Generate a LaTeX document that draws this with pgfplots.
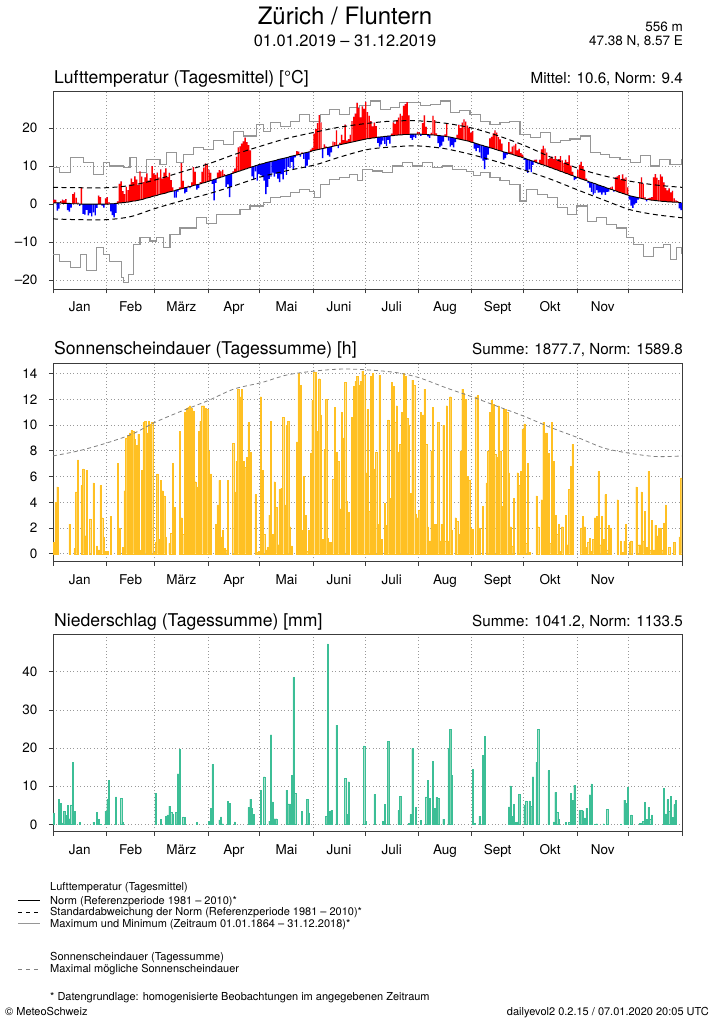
\documentclass[border=0pt]{standalone}
\usepackage{pgfplots}
\pgfplotsset{compat=1.18}
\usepackage{pgfplotstable}
\usepackage{fontspec}
\setmainfont{TeX Gyre Heros}
\definecolor{sunfill}{RGB}{255,212,95}
\definecolor{sunline}{RGB}{255,192,35}
\definecolor{prfill}{RGB}{125,210,178}
\definecolor{prline}{RGB}{60,190,150}
\definecolor{mmgray}{RGB}{150,150,150}
\definecolor{framec}{RGB}{60,60,60}
\newcommand{\fs}[1]{\fontsize{#1}{#1}\selectfont}

\pgfplotstableread[row sep=\\]{
N A\\
0.3 0.9\\0.3 0.8\\0.3 -2.0\\0.3 -1.5\\0.3 0.5\\0.2 1.0\\0.2 0.8\\0.2 1.1\\0.2 -1.8\\0.2 -2.2\\0.1 -1.0\\0.1 2.5\\0.1 3.0\\0.1 1.5\\0.1 0.3\\0 -0.5\\0 4.4\\0 -2.6\\0 -2.8\\0 -1.5\\0 -3.0\\0 -2.4\\0 -3.2\\0 -2.2\\0 -3.0\\0 -1.0\\0 2.2\\0 1.8\\0 -0.4\\0 -0.9\\0 1.5\\
0 1.8\\0 0.5\\0.1 -2.0\\0.1 -3.0\\0.1 -3.6\\0.2 -2.5\\0.2 0.5\\0.3 5.0\\0.3 5.7\\0.4 3.0\\0.4 2.2\\0.5 4.0\\0.5 3.2\\0.6 4.5\\0.7 6.0\\0.8 5.0\\0.8 6.5\\0.9 5.5\\1.0 4.0\\1.1 7.5\\1.2 6.0\\1.3 4.5\\1.5 5.5\\1.6 6.5\\1.7 4.5\\1.8 5.0\\2.0 8.0\\2.1 6.0\\
2.2 5.5\\2.3 6.0\\2.5 4.5\\2.6 6.5\\2.7 4.0\\2.8 5.5\\2.9 6.5\\3.1 4.0\\3.2 5.0\\3.3 3.0\\3.4 1.0\\3.5 -1.8\\3.7 -2.0\\3.8 -0.5\\3.9 0.5\\4.0 6.8\\4.1 2.0\\4.3 -1.5\\4.4 -1.2\\4.5 0.3\\4.6 -0.4\\4.7 1.0\\4.9 4.8\\5.0 3.5\\5.1 -1.3\\5.2 -1.0\\5.3 0.5\\5.5 3.0\\5.6 4.0\\5.7 5.0\\5.9 4.5\\
6.0 3.0\\6.2 2.0\\6.3 -1.0\\6.5 -5.5\\6.6 -1.0\\6.8 1.5\\6.9 2.0\\7.1 1.5\\7.2 1.8\\7.4 0.5\\7.5 -3.0\\7.7 -2.5\\7.8 -6.0\\8.0 -3.5\\8.1 0.5\\8.3 1.0\\8.4 4.0\\8.6 6.3\\8.7 6.5\\8.9 7.0\\9.0 7.5\\9.2 8.3\\9.3 7.0\\9.5 6.0\\9.6 4.5\\9.8 -2.5\\9.9 -3.5\\10.1 -1.5\\10.2 -4.0\\10.4 -2.5\\
10.5 -2.9\\10.6 -3.5\\10.7 -4.5\\10.9 -8.3\\11.0 -6.5\\11.1 -4.5\\11.2 -4.0\\11.3 -3.0\\11.4 -4.2\\11.5 -3.5\\11.7 -5.0\\11.8 -6.0\\11.9 -4.0\\12.0 -5.5\\12.1 -3.0\\12.2 -4.5\\12.3 -2.5\\12.5 -3.0\\12.6 -1.5\\12.7 -3.5\\12.8 -0.5\\12.9 1.0\\13.0 0.8\\13.1 -0.6\\13.3 0.3\\13.4 -1.5\\13.5 -4.0\\13.6 -3.5\\13.7 -2.0\\13.8 0.5\\14.0 0.8\\
14.1 4.4\\14.2 5.5\\14.3 7.0\\14.4 9.0\\14.5 7.0\\14.6 -2.5\\14.7 1.0\\14.8 0.3\\14.9 -2.0\\15.0 -2.5\\15.1 -1.5\\15.2 1.2\\15.3 1.0\\15.4 4.0\\15.5 -0.8\\15.6 0.5\\15.7 2.5\\15.8 1.0\\15.9 5.0\\16.0 0.7\\16.1 1.0\\16.2 2.0\\16.3 5.5\\16.4 6.5\\16.5 7.3\\16.6 10.0\\16.7 8.5\\16.8 6.0\\16.9 8.8\\17.0 8.0\\
17.1 9.8\\17.2 7.0\\17.2 6.0\\17.3 4.5\\17.4 3.0\\17.4 4.0\\17.5 3.0\\17.6 -1.5\\17.6 -2.5\\17.7 -2.0\\17.7 -1.0\\17.8 -2.0\\17.8 -2.5\\17.9 -1.0\\17.9 -2.0\\18.0 0.5\\18.0 3.5\\18.1 3.0\\18.1 4.0\\18.2 4.5\\18.2 5.5\\18.2 5.0\\18.3 7.5\\18.3 8.0\\18.3 8.5\\18.3 5.0\\18.4 -1.0\\18.4 -1.5\\18.4 -0.8\\18.4 -1.0\\18.4 0.6\\
18.4 0.5\\18.4 -0.5\\18.3 3.0\\18.3 5.0\\18.3 2.0\\18.3 -0.5\\18.2 -0.8\\18.2 0.5\\18.2 5.0\\18.1 4.0\\18.1 0.5\\18.0 -2.0\\18.0 -3.0\\17.9 -2.5\\17.9 -1.5\\17.8 0.5\\17.7 3.5\\17.7 -1.0\\17.6 -2.5\\17.5 -2.0\\17.4 -2.5\\17.3 -1.0\\17.2 1.0\\17.1 3.7\\17.0 3.0\\16.9 4.5\\16.8 5.5\\16.7 5.0\\16.6 4.0\\16.5 3.5\\16.3 2.5\\
16.2 3.0\\16.1 -1.5\\15.9 -2.0\\15.8 -1.0\\15.6 -2.0\\15.5 -3.5\\15.4 -4.0\\15.2 -6.0\\15.1 -3.5\\15.0 -2.0\\14.8 2.5\\14.7 3.0\\14.6 4.0\\14.4 5.0\\14.3 4.5\\14.1 3.5\\14.0 3.0\\13.9 2.0\\13.7 -2.0\\13.6 -1.5\\13.5 -0.5\\13.3 3.0\\13.2 0.5\\13.1 2.0\\12.9 2.5\\12.8 3.0\\12.6 1.5\\12.5 2.0\\12.4 1.0\\12.2 0.8\\
12.1 -0.5\\11.9 -3.0\\11.7 -3.5\\11.6 -2.5\\11.4 -3.0\\11.3 -1.0\\11.1 0.5\\10.9 0.8\\10.8 -0.3\\10.6 1.0\\10.4 4.0\\10.3 5.0\\10.1 4.5\\10.0 3.5\\9.8 2.0\\9.6 2.5\\9.5 3.0\\9.3 2.5\\9.1 3.5\\9.0 2.5\\8.8 3.0\\8.6 4.0\\8.5 3.0\\8.3 2.5\\8.1 3.5\\8.0 3.0\\7.8 5.0\\7.6 2.5\\7.5 1.0\\7.3 -1.0\\7.1 -0.5\\
7.0 2.0\\6.8 3.5\\6.6 4.5\\6.5 3.5\\6.3 2.5\\6.2 0.5\\6.0 -0.5\\5.8 -1.5\\5.7 -2.5\\5.5 -3.0\\5.4 -2.5\\5.2 -1.5\\5.0 -2.0\\4.9 -1.8\\4.7 -2.2\\4.6 -1.5\\4.4 -2.0\\4.2 -1.0\\4.1 -0.8\\3.9 0.5\\3.8 0.8\\3.6 -0.3\\3.5 3.5\\3.3 4.0\\3.1 4.5\\3.0 3.5\\2.8 5.0\\2.7 4.0\\2.5 4.5\\2.4 2.0\\
2.2 -1.0\\2.1 -2.5\\2.0 -3.0\\1.9 -2.0\\1.8 -1.5\\1.7 -0.5\\1.6 4.0\\1.5 5.5\\1.4 4.0\\1.3 0.5\\1.2 -0.5\\1.2 0.3\\1.1 0.5\\1.0 0.8\\1.0 6.0\\0.9 7.0\\0.9 6.0\\0.8 5.5\\0.8 7.0\\0.7 6.5\\0.7 5.0\\0.7 3.5\\0.6 3.0\\0.6 3.5\\0.6 2.5\\0.5 3.0\\0.5 1.0\\0.5 0.5\\0.5 0.3\\0.4 -1.5\\0.4 -2.0\\
}\temptab

\pgfplotstableread[row sep=\\]{
S\\
0.9\\4.0\\5.2\\0\\0\\0\\0\\0\\0\\2.3\\0\\0\\0.4\\4.8\\7.3\\0\\5.3\\6.6\\1.4\\6.5\\0\\2.7\\0\\5.5\\0\\0.6\\0.3\\5.3\\2.8\\1.3\\0.2\\
0.2\\0\\2.9\\0\\0\\0\\7.0\\2.0\\0\\0.5\\4.9\\9.0\\9.2\\9.4\\9.6\\9.5\\8.9\\8.4\\9.3\\0.3\\6.5\\10.2\\10.3\\9.4\\10.3\\10.1\\10.2\\0.1\\
0.9\\6.2\\1.1\\5.7\\4.9\\4.5\\1.3\\0\\0.8\\1.6\\7.0\\3.6\\0\\0\\9.5\\2.8\\1.5\\11.0\\11.3\\11.4\\11.5\\11.3\\11.1\\5.6\\5.2\\9.5\\10.3\\11.5\\11.5\\11.3\\11.2\\
8.0\\6.2\\0\\0\\2.3\\3.8\\5.7\\1.3\\1.8\\0.4\\0.3\\5.7\\0\\0\\8.6\\4.8\\7.2\\12.8\\12.2\\12.8\\7.2\\6.7\\7.5\\10.2\\7.9\\0\\0\\4.6\\0.1\\0.2\\
12.2\\6.5\\1.5\\0.3\\0.5\\3.0\\10.3\\1.5\\5.6\\3.6\\0.7\\5.0\\5.1\\10.6\\3.8\\10.0\\10.3\\2.1\\0.6\\0\\0\\8.7\\14.0\\13.1\\1.8\\6.0\\3.0\\0.2\\1.8\\7.8\\11.9\\
14.1\\14.1\\9.5\\13.6\\10.8\\1.1\\8.1\\12.0\\1.2\\0.9\\0.9\\5.8\\11.4\\7.9\\7.2\\3.5\\11.0\\9.0\\13.3\\4.1\\3.2\\0\\10.6\\13.0\\13.4\\13.8\\13.1\\13.4\\14.2\\13.9\\
6.3\\11.2\\3.3\\13.8\\14.0\\6.6\\7.9\\2.3\\13.9\\1.1\\0\\3.9\\2.2\\10.4\\4.3\\13.3\\13.0\\10.2\\11.5\\7.9\\8.5\\11.0\\14.0\\13.8\\10.5\\10.0\\4.7\\13.5\\13.1\\3.1\\2.8\\
3.4\\11.0\\10.8\\12.8\\8.5\\2.1\\1.0\\8.0\\11.4\\2.3\\2.3\\10.2\\1.0\\2.3\\10.0\\1.0\\11.5\\1.0\\12.2\\1.8\\0\\2.8\\2.5\\1.5\\8.0\\12.8\\12.5\\12.0\\6.0\\5.7\\2.0\\
1.9\\0\\12.2\\12.3\\2.0\\0\\3.7\\0\\5.5\\8.0\\11.0\\11.9\\11.6\\7.7\\7.5\\11.5\\8.0\\3.7\\11.2\\11.2\\11.0\\6.3\\2.1\\0.6\\4.3\\0\\6.3\\5.3\\6.4\\9.7\\
10.1\\0.8\\7.0\\0.1\\0\\0\\0\\4.5\\2.1\\0\\4.2\\10.2\\9.4\\9.4\\7.8\\0.8\\10.2\\7.2\\3.0\\1.5\\2.3\\0.2\\2.1\\0\\3.0\\0.7\\5.0\\6.8\\8.5\\0\\0\\
0\\0\\2.0\\2.9\\2.1\\0.5\\0.9\\1.2\\0.2\\1.1\\2.8\\2.9\\6.4\\0.7\\2.9\\1.1\\4.6\\0.3\\2.2\\2.0\\0\\0\\0\\4.2\\0\\1.0\\0.1\\1.0\\2.3\\0\\
0.9\\1.0\\0\\0\\5.2\\0.7\\0.7\\4.8\\1.0\\3.3\\0.5\\6.4\\0.3\\2.6\\0.3\\2.2\\1.4\\2.0\\2.0\\0.3\\2.4\\3.8\\0\\0.5\\0\\0\\0.9\\0\\0\\1.3\\5.9\\
}\suntab

\pgfplotsset{meteo/.style={
  scale only axis, width=629pt, xmin=0, xmax=365, enlargelimits=false,
  axis line style={framec, line width=0.9pt},
  tick align=outside, tick pos=left, major tick length=4pt,
  tick style={framec, line width=0.7pt},
  xtick={0,31,59,90,120,151,181,212,243,273,304,334,365},
  xticklabels={,,,,,,,,,,,,},
  extra x ticks={15.5,45,74.5,105,135.5,166,196.5,227.5,258,288.5,319},
  extra x tick labels={Jan,Feb,März,Apr,Mai,Juni,Juli,Aug,Sept,Okt,Nov},
  extra x tick style={major tick length=0pt, grid=none},
  xmajorgrids, ymajorgrids,
  grid style={gray!80, line width=0.6pt, dash pattern=on 0.8pt off 2.6pt},
  ticklabel style={font=\fs{13.5}},
  yticklabel style={xshift=-8pt},
  xticklabel style={yshift=-9pt},
}}

\begin{document}
\begin{tikzpicture}
\useasboundingbox (0,0) rectangle (715pt,1024pt);

% header
\node[anchor=base, font=\fs{24}, inner sep=0] at (345pt,999pt) {Zürich / Fluntern};
\node[anchor=base, font=\fs{16.4}, inner sep=0] at (345pt,977pt) {01.01.2019 – 31.12.2019};
\node[anchor=base east, font=\fs{13.5}, inner sep=0] at (683pt,992.3pt) {556 m};
\node[anchor=base east, font=\fs{13.5}, inner sep=0] at (683pt,978pt) {47.38 N, 8.57 E};

% panel titles
\node[anchor=base west, font=\fs{17.6}, inner sep=0] at (54pt,940.7pt) {Lufttemperatur (Tagesmittel) [°C]};
\node[anchor=base east, font=\fs{15.2}, inner sep=0] at (683pt,940.7pt) {Mittel: 10.6, Norm: 9.4};
\node[anchor=base west, font=\fs{17.6}, inner sep=0] at (54pt,669pt) {Sonnenscheindauer (Tagessumme) [h]};
\node[anchor=base east, font=\fs{15.2}, inner sep=0] at (683pt,669pt) {Summe: 1877.7, Norm: 1589.8};
\node[anchor=base west, font=\fs{17.6}, inner sep=0] at (54pt,397.5pt) {Niederschlag (Tagessumme) [mm]};
\node[anchor=base east, font=\fs{15.2}, inner sep=0] at (683pt,397.5pt) {Summe: 1041.2, Norm: 1133.5};

% ---------- temperature ----------
\begin{axis}[meteo, at={(53pt,734.7pt)}, anchor=south west, height=197.6pt,
  ymin=-22.4, ymax=29.55, ytick={-20,-10,0,10,20}, yticklabels={–20,–10,0,10,20}]
\addplot[mmgray, line width=1.1pt, const plot] coordinates {(0.2,9.6)(4,8.3)(9.9,12.2)(17.6,10.9)(23.4,7.8)(29.2,10.9)(33,10.0)(40.8,9.6)(44.7,12.2)(48.6,8.3)(54.4,11.8)(62.1,10.4)(66,13.5)(71.8,10.9)(75.6,13.1)(81.5,14.8)(87.3,14.4)(93.1,16.6)(98.9,15.7)(104.6,19.2)(110.5,17.9)(118.2,20.9)(122.1,19.2)(126,21.4)(132,20.5)(137.6,21.8)(143,23.6)(149,21.8)(155,23.6)(160.7,24.9)(166.5,23.6)(172,25.4)(178,25.8)(184,27.1)(189.8,24.9)(195.6,25.4)(201,26.7)(207,26.7)(213,25.8)(219,26.2)(224.8,27.1)(230.6,24.0)(236,24.5)(242,23.5)(248,21.8)(253.6,20.9)(259.4,21.4)(265,21.8)(271,18.3)(277,17.4)(282.8,18.8)(288.6,16.2)(294.4,16.6)(300,17.1)(306,17.9)(312,13.5)(317.5,13.1)(323,12.2)(329,11.8)(335,10.9)(340.8,12.7)(346.6,10.0)(352,11.8)(358,10.4)(365,11.8)};
\addplot[mmgray, line width=1.1pt, const plot] coordinates {(0.2,-13.2)(4,-15.0)(9.9,-16.7)(15.7,-13.2)(19.5,-17.5)(25.3,-11.5)(29.2,-13.2)(33,-15.0)(36.9,-15.0)(39.8,-19.4)(40.8,-20.7)(43.7,-18.5)(46.6,-10.6)(50.5,-8.9)(56.3,-9.7)(60.1,-8.9)(64,-11.5)(67.9,-8.0)(73.7,-6.3)(79.5,-6.3)(83.3,-3.6)(89.1,-5.0)(95,-2.8)(102.7,-2.8)(108.5,-1.4)(114.3,-0.5)(122.1,0.3)(126,1.7)(132,2.1)(137.6,3.0)(143,3.9)(149,3.4)(152,1.7)(155,5.2)(160.7,6.5)(166.5,7.0)(172,7.8)(176.9,6.1)(179.8,9.1)(185.6,8.7)(191.4,8.3)(197.2,10.0)(203,10.9)(208.8,10.0)(214.6,10.9)(220.4,9.6)(226.2,10.0)(232,9.1)(240,8.5)(244,7.5)(248,8.3)(253.6,7.0)(259.4,6.1)(265,5.2)(271,0.8)(275,3.9)(281,2.5)(286.7,1.7)(292.5,-1.0)(298.3,-2.8)(304,-0.5)(310,-4.5)(315.6,-3.6)(321.4,-5.4)(327.2,-6.3)(333,-8.9)(336.9,-10.6)(342.7,-13.7)(348.5,-11.5)(354.3,-10.6)(358.2,-14.5)(362,-11.5)(365,-13.2)};
\addplot[ybar, bar width=0.82, bar shift=0pt, draw=none, fill=none, stack plots=y] table[x expr=\coordindex+0.5, y=N] {\temptab};
\addplot[ybar, bar width=0.82, bar shift=0pt, draw=none, fill=red, stack plots=y] table[x expr=\coordindex+0.5, y expr={max(\thisrow{A},0)}] {\temptab};
\addplot[ybar, bar width=0.82, bar shift=0pt, draw=none, fill=blue, stack plots=y] table[x expr=\coordindex+0.5, y expr={min(\thisrow{A},0)}] {\temptab};
\addplot[black, line width=1pt, dash pattern=on 5pt off 3.5pt, smooth] coordinates {(0,4.4)(15,4.3)(31,4.3)(45,4.9)(59,6.3)(75,8.5)(91,10.7)(105,13.0)(121,15.3)(136,17.3)(152,18.9)(166,20.2)(182,21.2)(196,21.8)(211,21.9)(227,21.3)(243,20.0)(258,18.0)(273,15.5)(289,12.3)(304,9.5)(320,7.4)(335,6.0)(350,5.0)(365,4.4)};
\addplot[black, line width=1pt, dash pattern=on 5pt off 3.5pt, smooth] coordinates {(0,-3.9)(15,-4.1)(31,-4.1)(45,-3.3)(59,-1.2)(75,0.9)(91,2.8)(105,4.8)(121,7.2)(136,8.8)(152,10.3)(166,12.3)(182,14.3)(196,15.0)(211,15.3)(227,14.6)(243,13.0)(258,11.1)(273,9.0)(289,6.5)(304,3.8)(320,1.0)(335,-1.5)(350,-2.8)(365,-3.6)};
\addplot[black, line width=0.9pt] table[x expr=\coordindex+0.5, y=N] {\temptab};
\end{axis}

% ---------- sunshine ----------
\begin{axis}[meteo, at={(53pt,462.3pt)}, anchor=south west, height=198.4pt,
  ymin=-0.62, ymax=14.8, ytick={0,2,4,6,8,10,12,14}, yticklabels={0,2,4,6,8,10,12,14}]
\addplot[ybar, bar width=0.72, bar shift=0pt, fill=sunfill, draw=sunline, line width=0.3pt, restrict y to domain=0.05:20] table[x expr=\coordindex+0.5, y=S] {\suntab};
\addplot[gray, line width=0.8pt, dash pattern=on 4pt off 3pt, smooth] coordinates {(0,7.6)(15,8.0)(31,8.6)(46,9.3)(59,10.2)(73,11.0)(90,11.9)(105,12.8)(121,13.3)(136,13.9)(152,14.2)(167,14.35)(181,14.3)(198,14.1)(212,13.7)(228,12.9)(243,12.2)(259,11.4)(273,10.7)(289,9.8)(305,9.0)(320,8.2)(335,7.8)(350,7.55)(365,7.6)};
\end{axis}

% ---------- precipitation ----------
\begin{axis}[meteo, at={(53pt,192.3pt)}, anchor=south west, height=197.4pt,
  ymin=-1.9, ymax=49.8, ytick={0,10,20,30,40}, yticklabels={0,10,20,30,40}]
\addplot[ybar, bar width=0.7, bar shift=0pt, fill=prfill, draw=prline, line width=0.3pt] coordinates {
(0.5,3.0)(3.5,6.6)(4.5,5.6)(5.5,0.4)(6.5,3.5)(7.5,2.4)(8.5,5.0)(9.5,1.5)(10.5,5.1)(11.5,16.3)(12.5,3.5)(15.5,0.6)(23.5,0.6)(25.5,3.2)(26.5,1.4)(27.5,0.1)
(30.5,3.5)(31.5,6.5)(32.5,11.6)(36.5,7.2)(39.5,6.8)(40.5,0.6)
(59.5,8.2)(62.5,1.4)(65.5,2.2)(66.5,2.5)(67.5,4.8)(68.5,3.2)(69.5,2.8)(71.5,3.2)(72.5,13.3)(73.5,19.7)(75.5,2.0)(76.5,1.8)(83.5,0.6)
(90.5,0.8)(91.5,4.3)(92.5,15.7)(96.5,1.2)(97.5,2.0)(98.5,0.2)(101.5,6.0)(102.5,5.5)(105.5,0.7)(113.5,4.5)(114.5,6.6)(115.5,4.2)(116.5,2.6)
(120.5,9.0)(122.5,12.5)(125.5,0.9)(126.5,23.5)(127.5,5.9)(128.5,1.5)(129.5,1.5)(135.5,9.0)(136.5,5.4)(137.5,5.4)(138.5,12.8)(139.5,38.5)(140.5,8.2)(144.5,3.5)(147.5,6.5)(148.5,3.0)
(158.5,2.2)(159.5,47.3)(160.5,3.5)(161.5,3.7)(164.5,26.0)(169.5,12.0)(170.5,2.7)(171.5,11.2)(180.5,20.6)
(181.5,0.9)(186.5,7.9)(191.5,0.8)(192.5,5.2)(194.5,21.8)(200.5,3.7)(201.5,7.4)(206.5,0.3)(207.5,2.6)(208.5,19.9)(210.5,4.5)
(213.5,1.0)(216.5,7.2)(217.5,11.6)(218.5,6.8)(220.5,16.5)(221.5,4.3)(222.5,7.1)(223.5,6.8)(226.5,1.4)(229.5,19.9)(230.5,24.9)(231.5,12.8)
(243.5,14.4)(244.5,0.3)(247.5,2.2)(249.5,18.1)(250.5,23.1)(264.5,4.6)(265.5,10.1)(266.5,2.2)(267.5,5.2)(268.5,0.6)(269.5,0.7)(270.5,7.9)
(273.5,5.1)(274.5,6.2)(276.5,6.2)(277.5,4.8)(278.5,12.5)(280.5,16.3)(281.5,24.9)(287.5,14.1)(290.5,0.7)(291.5,8.4)(292.5,3.2)(293.5,1.3)(297.5,0.6)(299.5,0.5)(300.5,8.2)(301.5,6.4)(302.5,10.3)
(305.5,3.7)(306.5,3.7)(307.5,3.6)(308.5,1.7)(309.5,4.3)(311.5,7.8)(312.5,10.6)(314.5,0.1)(315.5,0.2)(319.5,0.2)(321.5,4.0)(329.5,0.1)(331.5,6.4)(332.5,5.5)(333.5,9.7)
(335.5,2.5)(340.5,0.3)(341.5,0.4)(342.5,0.9)(343.5,5.8)(344.5,1.3)(345.5,4.5)(346.5,1.3)(347.5,2.5)(354.5,9.5)(355.5,2.8)(356.5,6.5)(357.5,3.5)(358.5,7.3)(359.5,1.9)(360.5,5.2)(361.5,6.4)
};
\end{axis}

% ---------- legend / footer ----------
\begin{scope}[font=\fs{11}]
\node[anchor=base west, inner sep=0] at (50pt,133pt) {Lufttemperatur (Tagesmittel)};
\draw[black, line width=0.8pt] (18pt,123.3pt) -- (40pt,123.3pt);
\node[anchor=base west, inner sep=0] at (50pt,119.5pt) {Norm (Referenzperiode 1981 – 2010)*};
\draw[black, line width=0.8pt, dash pattern=on 4pt off 4pt] (18pt,112pt) -- (40pt,112pt);
\node[anchor=base west, inner sep=0] at (50pt,108pt) {Standardabweichung der Norm (Referenzperiode 1981 – 2010)*};
\draw[mmgray, line width=0.8pt] (18pt,100.5pt) -- (40pt,100.5pt);
\node[anchor=base west, inner sep=0] at (50pt,96.5pt) {Maximum und Minimum (Zeitraum 01.01.1864 – 31.12.2018)*};
\node[anchor=base west, inner sep=0] at (50pt,63pt) {Sonnenscheindauer (Tagessumme)};
\draw[gray, line width=0.8pt, dash pattern=on 4pt off 4pt] (18pt,55pt) -- (40pt,55pt);
\node[anchor=base west, inner sep=0] at (50pt,51pt) {Maximal mögliche Sonnenscheindauer};
\node[anchor=base west, inner sep=0] at (50pt,23pt) {* Datengrundlage: homogenisierte Beobachtungen im angegebenen Zeitraum};
\node[anchor=base west, inner sep=0] at (5pt,9pt) {© MeteoSchweiz};
\node[anchor=base east, inner sep=0] at (709pt,9pt) {dailyevol2 0.2.15 / 07.01.2020 20:05 UTC};
\end{scope}
\end{tikzpicture}
\end{document}
